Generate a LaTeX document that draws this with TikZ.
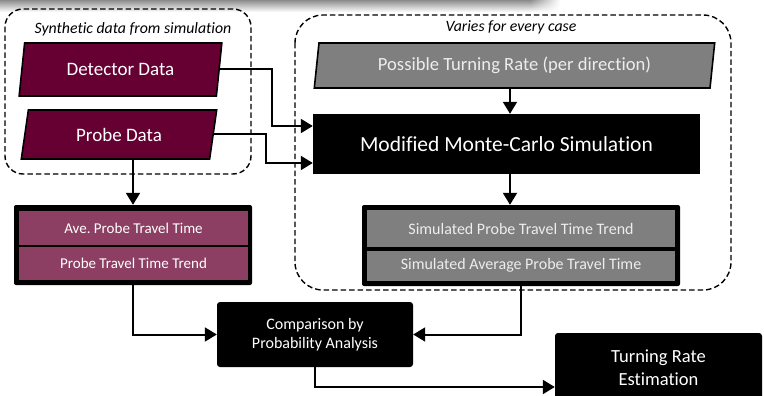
\documentclass[tikz,border=0pt]{standalone}
\usepackage{fontspec}
\setmainfont{Carlito}[Ligatures={NoCommon}]
\usetikzlibrary{shapes.geometric,arrows.meta,fadings}
\definecolor{maroon}{HTML}{660033}
\definecolor{rose}{HTML}{8C3F62}
\definecolor{midgray}{HTML}{7F7F7F}
\definecolor{lighttext}{HTML}{EDEDED}
\frenchspacing
\begin{document}
\begin{tikzpicture}[x=1pt,y=-1pt,
  para/.style={trapezium, trapezium stretches=true, draw=black, line width=1.6pt, inner sep=0pt, text=white},
  arr/.style={line width=2pt, -{Triangle[length=12pt,width=14pt]}},
  dashbox/.style={draw, line width=1.4pt, dash pattern=on 5.5pt off 3pt},
  blackbox/.style={fill=black, text=white, inner sep=0pt, rounded corners=2pt},
  rowbox/.style={inner sep=0pt},
  title/.style={font=\fontsize{15.8}{18}\selectfont\itshape}
]
\clip (0,0) rectangle (764,396);
% top shadow band
\shade[top color=black!45, bottom color=white] (0,0) rectangle (530,12);
\shade[top color=black!45, bottom color=white, path fading=east] (530,0) rectangle (560,12);

% dashed group boxes
\draw[dashbox, rounded corners=18pt] (5,9) rectangle (251,174);
\draw[dashbox, rounded corners=28pt] (295,15) rectangle (731,290);
\node[title] (t1) at (133,29) {Synthetic data from simulation};
\node[title] (t2) at (511,27) {Varies for every case};

% inputs
\node[para, fill=maroon, trapezium left angle=76, trapezium right angle=104,
  minimum width=203, minimum height=53, font=\fontsize{19}{22}\selectfont] (det) at (120.5,69.5) {Detector Data};
\node[para, fill=maroon, trapezium left angle=76, trapezium right angle=104,
  minimum width=196, minimum height=49, font=\fontsize{19}{22}\selectfont] (probe) at (119,134.5) {Probe Data};
\node[para, fill=midgray, text=lighttext, trapezium left angle=79, trapezium right angle=101,
  minimum width=401, minimum height=45, font=\fontsize{18.6}{21}\selectfont] (ptr) at (514.5,65.5) {Possible Turning Rate (per direction)};

% simulation
\node[fill=black, text=white, inner sep=0pt, minimum width=387, minimum height=60,
  font=\fontsize{21.5}{25}\selectfont] (mc) at (506.5,144) {Modified Monte-Carlo Simulation};

% left stacked box
\node[blackbox, minimum width=238, minimum height=80] (ave) at (133,245) {};
\node[rowbox, fill=rose, text=white, minimum width=229, minimum height=34.5,
  font=\fontsize{15}{17}\selectfont] (ave1) at (133.5,228) {Ave. Probe Travel Time};
\node[rowbox, fill=rose, text=white, minimum width=229, minimum height=32.7,
  font=\fontsize{15}{17}\selectfont] (ave2) at (133.5,263.6) {Probe Travel Time Trend};

% right stacked box
\node[blackbox, minimum width=318, minimum height=81] (sim) at (521,245.5) {};
\node[rowbox, fill=midgray, text=lighttext, minimum width=308, minimum height=37.3,
  font=\fontsize{16}{18}\selectfont] (sim1) at (521,228.6) {Simulated Probe Travel Time Trend};
\node[rowbox, fill=midgray, text=lighttext, minimum width=308, minimum height=30,
  font=\fontsize{16}{18}\selectfont] (sim2) at (521,265.7) {Simulated Average Probe Travel Time};

% comparison and result
\node[blackbox, rounded corners=3pt, minimum width=196, minimum height=65, align=center,
  font=\fontsize{16}{19}\selectfont] (cmp) at (315,334.5) {Comparison by\\Probability Analysis};
\node[blackbox, rounded corners=3pt, minimum width=207, minimum height=70, align=center,
  font=\fontsize{18.5}{23}\selectfont] (tre) at (658.5,368) {Turning Rate\\Estimation};

% connectors
\draw[arr] (det.east) -- ++(52,0) |- ([yshift=18pt]mc.west);
\draw[arr] (probe.east) -- ++(52.5,0) |- ([yshift=-19pt]mc.west);
\draw[arr] (ave.north |- probe.south) -- (ave.north);
\draw[arr] ([xshift=3.5pt]mc.north |- ptr.south) -- ([xshift=3.5pt]mc.north);
\draw[arr] ([xshift=3.5pt]mc.south) -- ([xshift=3.5pt]mc.south |- sim.north);
\draw[arr] (ave.south) |- (cmp.west);
\draw[arr] (sim.south) |- (cmp.east);
\draw[arr] (cmp.south) |- ([yshift=-19pt]tre.west);
\end{tikzpicture}
\end{document}
